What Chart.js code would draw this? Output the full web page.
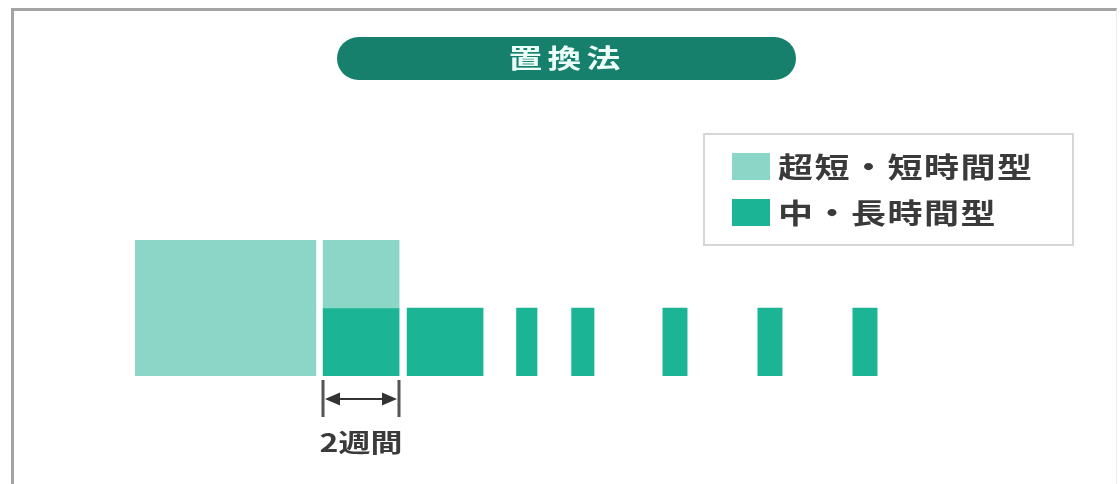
<!DOCTYPE html>
<html><head><meta charset="utf-8">
<script src="https://cdn.jsdelivr.net/npm/chart.js@4/dist/chart.umd.min.js"></script>
<style>
html,body{margin:0;padding:0;background:#fff;width:1120px;height:484px;overflow:hidden;font-family:"Noto Sans CJK JP","Noto Sans",sans-serif;}
#frame{position:absolute;left:11px;top:8px;width:1106px;height:600px;border-left:3px solid #a3a3a3;border-top:3px solid #a3a3a3;border-right:1px solid #ececec;box-sizing:border-box;}
#chart{position:absolute;left:0;top:0;}
#title{position:absolute;left:337px;top:37px;width:459px;height:43px;border-radius:22px;background:#17806c;}
#title span{position:absolute;left:50%;top:5px;font-size:26px;line-height:30px;font-weight:700;color:#ecfff9;white-space:nowrap;letter-spacing:4px;transform:translateX(-50%) scaleX(1.3);}
#legend{position:absolute;left:703px;top:133px;width:371px;height:113px;border:2px solid #d6d6d6;box-sizing:border-box;}
.sw{position:absolute;left:27px;width:38px;height:27px;}
.lt{position:absolute;left:73px;font-size:28px;line-height:28px;font-weight:700;color:#3a3a3a;white-space:nowrap;letter-spacing:1.2px;transform-origin:left center;transform:scaleX(1.25);}
</style>
</head><body>
<div id="frame"></div>
<canvas id="chart" width="1120" height="484"></canvas>
<div id="title"><span id="titleText"></span></div>
<div id="legend">
  <div class="sw" id="sw0" style="top:18px"></div><div class="lt" id="lt0" style="top:17px"></div>
  <div class="sw" id="sw1" style="top:64px"></div><div class="lt" id="lt1" style="top:63px"></div>
</div>
<script>
// ---- data ----
const titleLabel = '置換法';
const seriesNames = ['超短・短時間型', '中・長時間型'];
const seriesColors = ['#8bd6c7', '#1bb596'];
const rowLabels = ['上段', '下段'];
// 超短・短時間型 blocks (weeks)
const shortStart = [0, 4.95];
const shortEnd = [4.76, 6.95];
const shortRows = [['上段', '下段'], ['上段']];
// 中・長時間型 blocks (weeks)
const longStart = [4.95, 7.16, 10.04, 11.49, 13.89, 16.39, 18.89];
const longEnd = [6.95, 9.16, 10.58, 12.08, 14.53, 17.03, 19.53];
const intervalLabel = '2週間';

// ---- build ----
const shortData = [];
shortStart.forEach((s, i) => shortRows[i].forEach(r => shortData.push({x: [s, shortEnd[i]], y: r})));
const longData = longStart.map((s, i) => ({x: [s, longEnd[i]], y: '下段'}));

document.getElementById('titleText').textContent = titleLabel;
[0, 1].forEach(i => {
  document.getElementById('sw' + i).style.background = seriesColors[i];
  document.getElementById('lt' + i).textContent = seriesNames[i];
});

const intervalPlugin = {
  id: 'interval',
  afterDraw(chart) {
    const xs = chart.scales.x;
    const ctx = chart.ctx;
    const x1 = Math.round(xs.getPixelForValue(longStart[0]));
    const x2 = Math.round(xs.getPixelForValue(longEnd[0]));
    ctx.save();
    ctx.strokeStyle = '#555';
    ctx.lineWidth = 3;
    ctx.beginPath();
    ctx.moveTo(x1, 380); ctx.lineTo(x1, 417);
    ctx.moveTo(x2, 380); ctx.lineTo(x2, 417);
    ctx.stroke();
    ctx.strokeStyle = '#333';
    ctx.lineWidth = 2;
    ctx.beginPath();
    ctx.moveTo(x1 + 4, 399); ctx.lineTo(x2 - 4, 399);
    ctx.stroke();
    ctx.fillStyle = '#333';
    ctx.beginPath();
    ctx.moveTo(x1 + 2, 399); ctx.lineTo(x1 + 17, 392.5); ctx.lineTo(x1 + 17, 405.5); ctx.closePath();
    ctx.moveTo(x2 - 2, 399); ctx.lineTo(x2 - 17, 392.5); ctx.lineTo(x2 - 17, 405.5); ctx.closePath();
    ctx.fill();
    ctx.font = 'bold 25px "Noto Sans CJK JP"';
    ctx.letterSpacing = '0px';
    ctx.textAlign = 'center';
    ctx.textBaseline = 'alphabetic';
    ctx.fillStyle = '#3a3a3a';
    ctx.translate((x1 + x2) / 2, 452);
    ctx.scale(1.28, 1);
    ctx.fillText(intervalLabel, 0, 0);
    ctx.restore();
  }
};

new Chart(document.getElementById('chart'), {
  type: 'bar',
  data: {
    labels: rowLabels,
    datasets: [
      {label: seriesNames[0], data: shortData, backgroundColor: seriesColors[0], borderWidth: 0},
      {label: seriesNames[1], data: longData, backgroundColor: seriesColors[1], borderWidth: 0}
    ]
  },
  options: {
    indexAxis: 'y',
    responsive: false,
    animation: false,
    grouped: false,
    categoryPercentage: 1,
    barPercentage: 1,
    layout: {padding: {left: 135, right: 35, top: 240, bottom: 108}},
    scales: {
      x: {type: 'linear', min: 0, max: 25, display: false},
      y: {type: 'category', display: false}
    },
    plugins: {legend: {display: false}, title: {display: false}, tooltip: {enabled: false}}
  },
  plugins: [intervalPlugin]
});
</script>
</body></html>
